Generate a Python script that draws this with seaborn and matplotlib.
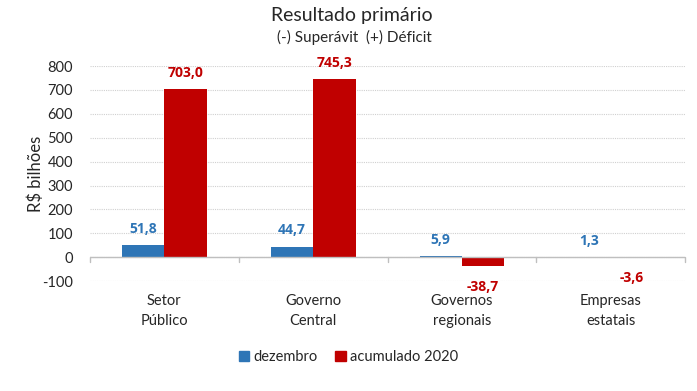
import numpy as np
import pandas as pd
import matplotlib
matplotlib.use("Agg")
import matplotlib.pyplot as plt
import seaborn as sns

categories = ["Setor\nPúblico", "Governo\nCentral", "Governos\nregionais", "Empresas\nestatais"]
dezembro = [51.8, 44.7, 5.9, 1.3]
acumulado = [703.0, 745.3, -38.7, -3.6]
series = ["dezembro", "acumulado 2020"]
colors = ["#2E75B6", "#C00000"]

df = pd.DataFrame({
    "categoria": categories * 2,
    "serie": [series[0]] * 4 + [series[1]] * 4,
    "valor": dezembro + acumulado,
})

sns.set_style("white")
plt.rcParams["font.family"] = ["Lato", "DejaVu Sans"]
plt.rcParams["axes.unicode_minus"] = False

fig = plt.figure(figsize=(6.97, 3.91), dpi=100)
ax = fig.add_axes([0.129, 0.281, 0.854, 0.55])

sns.barplot(data=df, x="categoria", y="valor", hue="serie", palette=colors,
            width=0.57, saturation=1, linewidth=0, ax=ax, legend=True)

ax.set_ylim(-100, 800)
ax.set_yticks(range(-100, 801, 100))
ax.set_xlim(-0.5, 3.5)
ax.yaxis.grid(True, linestyle=(0, (1, 1)), color="#d0d0d0", linewidth=0.8)
ax.set_axisbelow(True)
ax.axhline(0, color="#bfbfbf", linewidth=1, zorder=1)
for sp in ax.spines.values():
    sp.set_visible(False)

ax.set_xlabel("")
ax.set_ylabel("R$ bilhões", fontsize=12, labelpad=-1)
ax.tick_params(axis="y", length=0, labelsize=10.5, pad=12)
ax.tick_params(axis="x", length=0, labelsize=10.5, pad=9)
for lab in ax.get_xticklabels():
    lab.set_linespacing(1.55)

# category separator ticks at zero line
for xb in np.arange(-0.5, 3.6, 1):
    ax.plot([xb, xb], [0, -20], color="#bfbfbf", linewidth=1, clip_on=False)

for cont, col in zip(ax.containers, colors):
    for bar in cont:
        h = bar.get_height()
        xc = bar.get_x() + bar.get_width() / 2
        txt = f"{h:.1f}".replace(".", ",")
        yy = h + 68 if h >= 0 else h - 85
        ax.text(xc, yy, txt, ha="center", va="center", color=col,
                fontsize=10, fontweight="bold", family=["Open Sans", "DejaVu Sans"])

ax.legend_.remove()
handles = [plt.Rectangle((0, 0), 1, 1, color=c) for c in colors]
fig.legend(handles, series, loc="center", bbox_to_anchor=(0.5, 0.087), ncol=2, frameon=False,
           fontsize=10.5, handlelength=0.7, handleheight=0.7, columnspacing=1.2,
           handletextpad=0.3)

fig.text(0.505, 0.96, "Resultado primário", ha="center", va="center", fontsize=14)
fig.text(0.508, 0.905, "(-) Superávit  (+) Déficit", ha="center", va="center", fontsize=11)

fig.savefig("out.png", dpi=100)
